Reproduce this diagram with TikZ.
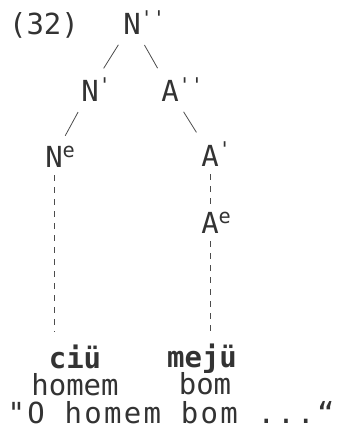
\documentclass[tikz,border=0pt]{standalone}
\usepackage{fontspec}
\setmonofont{DejaVu Sans Mono}
\usetikzlibrary{positioning}

\begin{document}
\begin{tikzpicture}[x=1pt, y=-1pt,
                lbl/.style={font=\ttfamily\fontsize{29}{32}\selectfont, text=black!80, anchor=base, inner sep=2pt},
                wrd/.style={lbl, font=\ttfamily\bfseries\fontsize{29}{32}\selectfont},
                branch/.style={line width=0.8pt, draw=black!70, shorten <=9pt, shorten >=9pt},
                trace/.style={line width=0.8pt, draw=black!70, dash pattern=on 6pt off 6pt}]
                \useasboundingbox (0,0) rectangle (338,441);
                \node[lbl] (ex) at (44,35) {(32)};
                \node[lbl] (Nn) at (132,35) {N\rlap{\textsuperscript{''}}};
                \node[lbl] (Nb) at (90,102) {N\rlap{\textsuperscript{'}}};
                \node[lbl] (An) at (170,102) {A\rlap{\textsuperscript{''}}};
                \node[lbl] (Ne) at (54,167) {N\rlap{\textsuperscript{e}}};
                \node[lbl] (Ab) at (210,166) {A\rlap{\textsuperscript{'}}};
                \node[lbl] (Ae) at (210,233) {A\rlap{\textsuperscript{e}}};
                \node[wrd] (ciu) at (75,368) {ciü};
                \node[wrd] (meju) at (202,367) {mejü};
                \node[lbl] (glA) at (75,395) {homem};
                \node[lbl] (glB) at (205,394) {bom};
                \node[lbl, font=\ttfamily\fontsize{29}{32}\selectfont\addfontfeature{LetterSpace=8}] (transl) at (171,423) {"O homem bom ...“};

                \draw[branch] (Nn) -- (Nb);
                \draw[branch] (Nn) -- (An);
                \draw[branch] (Nb) -- (Ne);
                \draw[branch] (An) -- (Ab);
                \draw[trace, shorten <=6pt, shorten >=10pt] (Ne) -- (Ne |- ciu.north);
                \draw[trace, shorten <=6pt, shorten >=6pt] (Ab) -- (Ae);
                \draw[trace, shorten <=6pt, shorten >=10pt] (Ae) -- (Ae |- meju.north);
            \end{tikzpicture}
\end{document}
